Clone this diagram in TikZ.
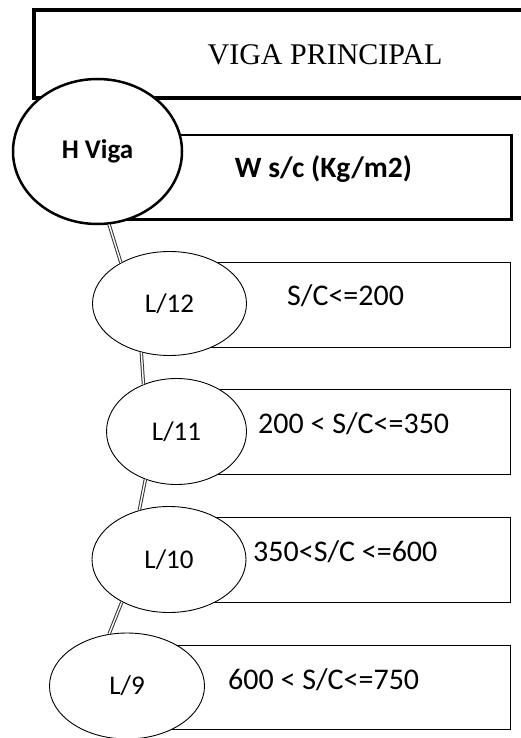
\documentclass[tikz,border=0pt]{standalone}
\usepackage{fontspec}
\setmainfont{Liberation Serif}
\newfontfamily\calibri{Carlito}
\usetikzlibrary{shapes.geometric}

\begin{document}
\begin{tikzpicture}[x=1pt,y=-1pt]

\tikzset{tope/.style = {draw, line width=3.5pt, inner sep=0pt}}
\tikzset{caja/.style = {draw, line width=1.2pt, inner sep=0pt}}
\tikzset{nivel/.style = {shape=ellipse, draw, fill=white, line width=0.9pt, inner sep=0pt, font=\calibri\fontsize{27}{32}\selectfont}}
\tikzset{rango/.style = {anchor=base west, inner sep=0pt, font=\calibri\fontsize{30}{36}\selectfont}}
\tikzset{enlace/.style = {draw=black!80, line width=1pt, double=white, double distance=1.4pt}}

\useasboundingbox (0,0) rectangle (521,738);

%cajas
\node[tope, anchor=north west, minimum width=530, minimum height=88] (viga) at (32,8.5) {};
\node[caja, line width=2.5pt, anchor=north west, minimum width=390, minimum height=84] (w) at (120,134) {};
\node[caja, anchor=north west, minimum width=341, minimum height=85] (r12) at (169,262) {};
\node[caja, anchor=north west, minimum width=334, minimum height=85] (r11) at (176,389) {};
\node[caja, anchor=north west, minimum width=341, minimum height=85] (r10) at (169,517) {};
\node[caja, anchor=north west, minimum width=383, minimum height=84] (r9) at (127,645) {};

%elipses
\node[nivel, line width=2.5pt, minimum width=169, minimum height=145, font=\calibri\bfseries\fontsize{27}{32}\selectfont] (h) at (97.5,151.5) {H Viga};
\node[nivel, minimum width=154, minimum height=104] (12) at (169.5,303.5) {L/12};
\node[nivel, minimum width=140, minimum height=106] (11) at (176.5,431.5) {L/11};
\node[nivel, minimum width=154, minimum height=106] (10) at (169,559.5) {L/10};
\node[nivel, minimum width=155, minimum height=106] (9) at (127,686) {L/9};

%enlaces
\draw[enlace] (h.-81) -- (12.140);
\draw[enlace] (12.240) -- (11.125);
\draw[enlace] (11.237) -- (10.121);
\draw[enlace] (10.222) -- (9.109);

%textos
\node[anchor=base, inner sep=0pt, font=\fontsize{30}{36}\selectfont] (tviga) at (325,65) {VIGA PRINCIPAL};
\node[anchor=base, inner sep=0pt, font=\calibri\bfseries\fontsize{29.5}{35}\selectfont] (tw) at (323.5,178) {W s/c (Kg/m2)};
\node[rango] (t12) at (287,305) {S/C<=200};
\node[rango] (t11) at (258,433) {200 < S/C<=350};
\node[rango] (t10) at (253,561) {350<S/C <=600};
\node[rango] (t9) at (228,689) {600 < S/C<=750};

\end{tikzpicture}
\end{document}
